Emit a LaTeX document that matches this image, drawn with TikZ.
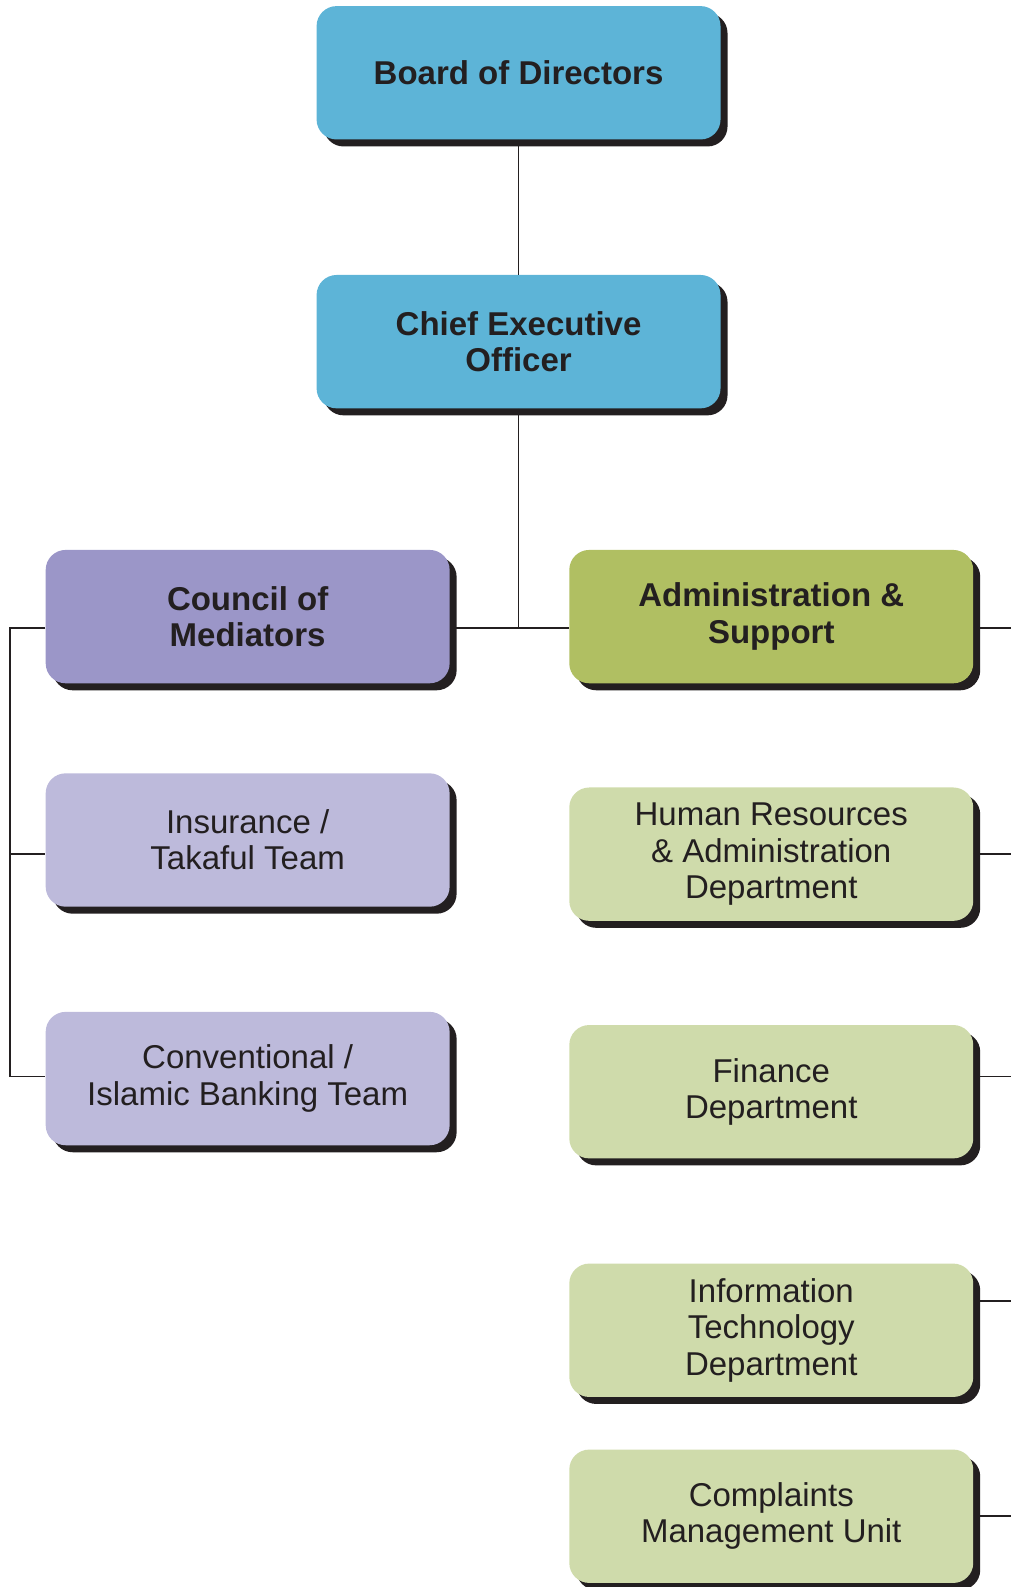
\documentclass[tikz,border=0pt]{standalone}
\usepackage{fontspec}
\setmainfont{Liberation Sans}
\usepackage{xcolor}
\usepackage{tikz}
\usetikzlibrary{positioning, shadows}

\definecolor{boardblue}{HTML}{5DB4D7}
\definecolor{councilpurple}{HTML}{9B96C8}
\definecolor{adminolive}{HTML}{B0BF62}
\definecolor{teamlilac}{HTML}{BDBADB}
\definecolor{deptgreen}{HTML}{CFDBAB}
\definecolor{inkblack}{HTML}{231F20}

\tikzset{
  unitbox/.style={
    rectangle,
    rounded corners=10pt,
    fill=#1,
    text=inkblack,
    minimum width=202pt,
    minimum height=66.7pt,
    inner sep=0pt,
    align=center,
    font=\fontsize{16.5}{18.2}\selectfont,
    drop shadow={shadow xshift=3.5pt, shadow yshift=-3.5pt, fill=inkblack, opacity=1}
  },
  headbox/.style={
    unitbox=#1,
    font=\fontsize{16.5}{18.2}\selectfont\bfseries
  },
  link/.style={
    draw=inkblack,
    line width=0.8pt
  }
}

\begin{document}
\begin{tikzpicture}[x=0.5055pt, y=-0.5055pt]

\useasboundingbox (0,0) rectangle (1000,1570);

% Nodes
\node (board) [headbox=boardblue] at (513,72) {Board of Directors};
\node (ceo) [headbox=boardblue] at (513,338) {Chief Executive\\Officer};

\node (council) [headbox=councilpurple] at (245,610) {Council of\\Mediators};
\node (ins) [unitbox=teamlilac] at (245,831) {Insurance /\\Takaful Team};
\node (conv) [unitbox=teamlilac] at (245,1067) {Conventional /\\Islamic Banking Team};

\node (admin) [headbox=adminolive] at (763,610) {Administration \&\\Support};
\node (hr) [unitbox=deptgreen] at (763,845) {Human Resources\\\& Administration\\Department};
\node (fin) [unitbox=deptgreen] at (763,1080) {Finance\\Department};
\node (it) [unitbox=deptgreen] at (763,1316) {Information\\Technology\\Department};
\node (comp) [unitbox=deptgreen] at (763,1500) {Complaints\\Management Unit};

% Bus coordinates
\coordinate (hub) at (513,621);
\coordinate (lrow1) at (10,621);
\coordinate (lrow2) at (10,845);
\coordinate (lrow3) at (10,1065);
\coordinate (rrow1) at (1000,621);
\coordinate (rrow2) at (1000,845);
\coordinate (rrow3) at (1000,1065);
\coordinate (rrow4) at (1000,1287);
\coordinate (rrow5) at (1000,1500);

% Connectors
\draw [link] (board) -- (ceo);
\draw [link] (ceo.south) -- (hub);
\draw [link] (hub -| council.east) -- (hub -| admin.west);

\draw [link] (lrow1 -| council.west) -- (lrow1) -- (lrow3) -- (lrow3 -| conv.west);
\draw [link] (lrow2) -- (lrow2 -| ins.west);

\draw [link] (rrow1 -| admin.east) -- (rrow1);
\draw [link] (rrow2 -| hr.east) -- (rrow2);
\draw [link] (rrow3 -| fin.east) -- (rrow3);
\draw [link] (rrow4 -| it.east) -- (rrow4);
\draw [link] (rrow5 -| comp.east) -- (rrow5);

\end{tikzpicture}
\end{document}
